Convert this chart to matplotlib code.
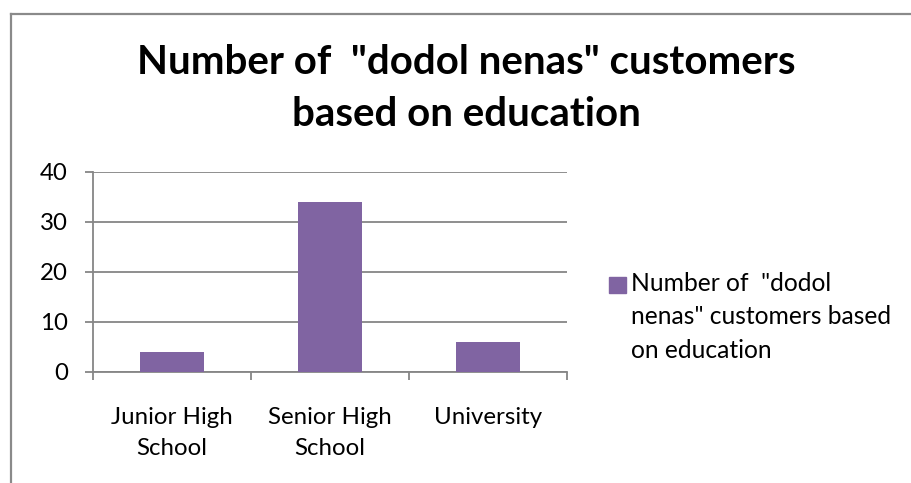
import matplotlib.pyplot as plt
from matplotlib.patches import Rectangle
from matplotlib.lines import Line2D

# education level vs number of customers
categories = ['Junior High\nSchool', 'Senior High\nSchool', 'University']
customers = [4, 34, 6]
series_name = 'Number of  "dodol nenas" customers based on education'
legend_label = 'Number of  "dodol\nnenas" customers based\non education'
title = 'Number of  "dodol nenas" customers\nbased on education'

bar_color = '#8064A2'
grid_color = '#868686'

plt.rcParams['font.family'] = ['Lato', 'DejaVu Sans']

fig = plt.figure(figsize=(9.11, 4.83), dpi=100)
ax = fig.add_axes([93 / 911, 111 / 483, 474 / 911, 200 / 483])

x = list(range(len(categories)))
ax.bar(x, customers, width=0.4, color=bar_color, zorder=3, label=series_name)

ax.set_xlim(-0.5, len(categories) - 0.5)
ax.set_ylim(0, 40)
ax.set_yticks([0, 10, 20, 30, 40])
ax.yaxis.grid(True, color=grid_color, linewidth=1.3, zorder=0)

for side in ['top', 'right']:
    ax.spines[side].set_visible(False)
for side in ['left', 'bottom']:
    ax.spines[side].set_color(grid_color)
    ax.spines[side].set_linewidth(1.3)

ax.tick_params(axis='y', length=6, width=1.3, color=grid_color, pad=12, labelsize=17.3)
ax.set_xticks(x)
ax.set_xticklabels(categories, fontsize=17.3, linespacing=1.6)
ax.tick_params(axis='x', which='major', length=0, pad=25)
ax.set_xticks([i - 0.5 for i in range(len(categories) + 1)], minor=True)
ax.tick_params(axis='x', which='minor', length=6, width=1.3, color=grid_color)

# title
fig.text(466 / 911, 1 - 89 / 483, title, ha='center', va='center',
         fontsize=29, fontweight='bold', linespacing=1.5)

# legend: square marker next to the wrapped series name
fig.patches.append(Rectangle((609 / 911, 1 - 293 / 483), 17 / 911, 16 / 483,
                             transform=fig.transFigure, color=bar_color))
fig.text(631 / 911, 1 - 272 / 483, legend_label, ha='left', va='top',
         fontsize=17.7, linespacing=1.54)

# outer frame (left and top edges)
fig.lines.append(Line2D([11 / 911, 11 / 911], [0, 1 - 14 / 483],
                        transform=fig.transFigure, color='#8a8a8a', linewidth=1.6))
fig.lines.append(Line2D([11 / 911, 1], [1 - 14 / 483, 1 - 14 / 483],
                        transform=fig.transFigure, color='#8a8a8a', linewidth=1.6))

fig.savefig('out.png', dpi=100)
